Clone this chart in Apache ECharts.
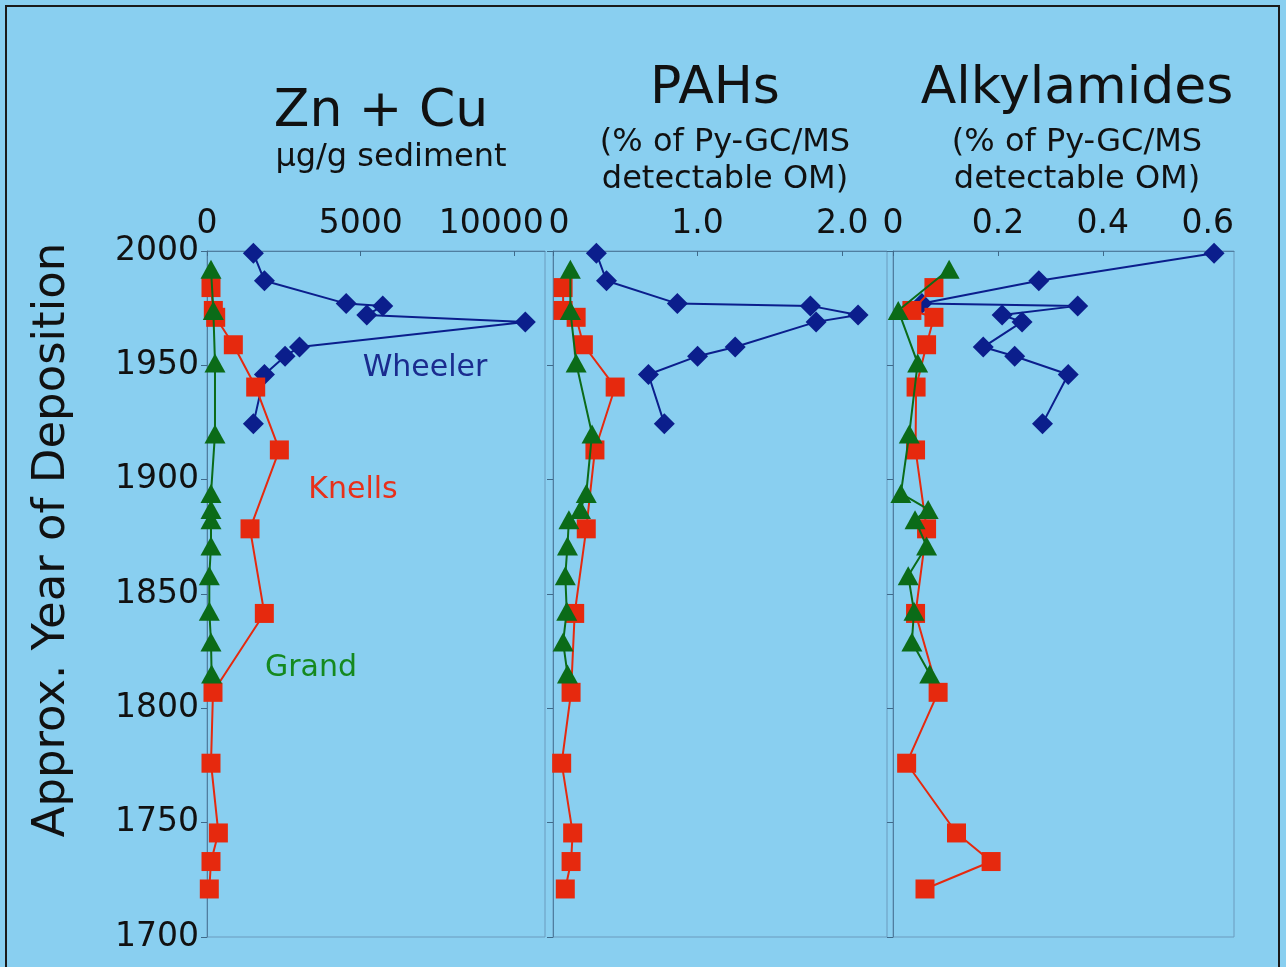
<!DOCTYPE html>
<html>
<head>
<meta charset="utf-8">
<script src="https://cdn.jsdelivr.net/npm/echarts@6/dist/echarts.min.js"></script>
<style>
html,body{margin:0;padding:0;background:#89CFF0;}
#chart{width:1286px;height:967px;}
</style>
</head>
<body>
<div id="chart"></div>
<script>
// ---- Data ----
const panelTitles = ['Zn + Cu', 'PAHs', 'Alkylamides'];
const panelSubtitles = [['μg/g sediment'], ['(% of Py-GC/MS', 'detectable OM)'], ['(% of Py-GC/MS', 'detectable OM)']];
const seriesNames = ['Wheeler', 'Knells', 'Grand'];
const yAxisTitle = 'Approx. Year of Deposition';

const wheelerYears = [1999, 1987, 1977, 1976, 1972, 1969, 1958, 1954, 1946, 1924.5];
const wheelerZnCu = [1510, 1870, 4530, 5720, 5200, 10360, 3010, 2540, 1870, 1510];
const wheelerPAH = [0.30, 0.37, 0.86, 1.78, 2.11, 1.82, 1.26, 1.00, 0.66, 0.77];
const wheelerAlk = [0.612, 0.278, 0.055, 0.352, 0.208, 0.246, 0.172, 0.232, 0.334, 0.285];

const knellsYears = [1984, 1974, 1971, 1959, 1940.5, 1913, 1878.5, 1841.5, 1807, 1776, 1745.5, 1733, 1721];
const knellsZnCu = [130, 206, 283, 857, 1585, 2355, 1400, 1866, 195, 130, 370, 130, 75];
const knellsPAH = [0.07, 0.07, 0.16, 0.21, 0.43, 0.29, 0.23, 0.15, 0.125, 0.06, 0.136, 0.125, 0.085];
const knellsAlk = [0.078, 0.036, 0.078, 0.064, 0.044, 0.043, 0.064, 0.043, 0.086, 0.026, 0.121, 0.187, 0.061];

const grandYears = [1992, 1974, 1951, 1920, 1894, 1887, 1882.5, 1871, 1858, 1842.5, 1829, 1815];
const grandZnCu = [130, 206, 260, 260, 130, 130, 130, 130, 75, 75, 130, 150];
const grandPAH = [0.12, 0.12, 0.16, 0.27, 0.23, 0.19, 0.11, 0.10, 0.085, 0.095, 0.07, 0.10];
const grandAlk = [0.107, 0.010, 0.047, 0.031, 0.015, 0.067, 0.042, 0.064, 0.029, 0.040, 0.036, 0.070];

const xMax = [11000, 2.31, 0.65];
const xInterval = [5000, 1.0, 0.2];
const yearMin = 1700, yearMax = 2000, yearInterval = 50;

// ---- Chart ----
const FONT = 'DejaVu Sans';
const colors = { Wheeler: '#0B1E8C', Knells: '#E6290E', Grand: '#0B6B18' };
const labelColors = { Wheeler: '#1A2B8E', Knells: '#E8301A', Grand: '#15891F' };

function pairs(vals, years) { return vals.map((v, i) => [v, years[i]]); }

const grids = [
  { left: 207, top: 251, width: 338, height: 686 },
  { left: 553, top: 251, width: 334, height: 686 },
  { left: 893, top: 251, width: 341, height: 686 }
].map(g => Object.assign(g, { show: true, borderColor: '#6A9BBE', borderWidth: 1, backgroundColor: 'transparent' }));

const xFormatters = [
  v => v === 10000 ? '{l|' + v + '}' : String(v),
  v => v === 0 ? '{r|0}' : v.toFixed(1),
  v => v === 0 ? '0' : v.toFixed(1)
];
const labelRich = { l: { padding: [0, 46, 0, 0] }, r: { padding: [0, 0, 0, 12] } };

const xAxes = [0, 1, 2].map(i => ({
  type: 'value', gridIndex: i, position: 'top', min: 0, max: xMax[i], interval: xInterval[i],
  axisLine: { show: true, lineStyle: { color: '#4F7EA0', width: 1 } },
  axisTick: { show: true, inside: true, length: 5, lineStyle: { color: '#3F6A8A' } },
  axisLabel: { show: true, showMaxLabel: false, fontSize: 33, fontFamily: FONT, color: '#111', margin: 10,
    formatter: xFormatters[i], rich: { l: Object.assign({ fontSize: 33, fontFamily: FONT, color: '#111' }, labelRich.l), r: Object.assign({ fontSize: 33, fontFamily: FONT, color: '#111' }, labelRich.r) } },
  splitLine: { show: false }
}));

const yAxes = [0, 1, 2].map(i => ({
  type: 'value', gridIndex: i, min: yearMin, max: yearMax, interval: yearInterval,
  axisLine: { show: true, lineStyle: { color: '#4F7EA0', width: 1 } },
  axisTick: { show: true, inside: false, length: 6, lineStyle: { color: '#3F6A8A' } },
  axisLabel: { show: i === 0, fontSize: 33, fontFamily: FONT, color: '#111', margin: 8, formatter: v => String(v) },
  splitLine: { show: false }
}));

const dataSets = [
  { Wheeler: wheelerZnCu, Knells: knellsZnCu, Grand: grandZnCu },
  { Wheeler: wheelerPAH, Knells: knellsPAH, Grand: grandPAH },
  { Wheeler: wheelerAlk, Knells: knellsAlk, Grand: grandAlk }
];
const yearsOf = { Wheeler: wheelerYears, Knells: knellsYears, Grand: grandYears };
const symbols = { Wheeler: ['diamond', [21, 21]], Knells: ['rect', [19, 19]], Grand: ['triangle', [21, 19]] };

const series = [];
[0, 1, 2].forEach(i => {
  seriesNames.forEach((name, k) => {
    series.push({
      type: 'line', name, xAxisIndex: i, yAxisIndex: i,
      data: pairs(dataSets[i][name], yearsOf[name]),
      symbol: symbols[name][0], symbolSize: symbols[name][1], showAllSymbol: true,
      lineStyle: { color: colors[name], width: 2 },
      itemStyle: { color: colors[name] },
      z: 2 + k, silent: true, animation: false
    });
  });
});

const titlePos = [[381, 138], [715, 115], [1077, 115]];
const subPos = [[391, 158], [725, 143], [1077, 143]];
const graphic = [
  { type: 'rect', shape: { x: 6, y: 6, width: 1273, height: 975 }, style: { fill: 'none', stroke: '#1a1a1a', lineWidth: 2 }, z: 100 },
  { type: 'text', x: 52, y: 540, rotation: Math.PI / 2,
    style: { text: yAxisTitle, font: '45px "DejaVu Sans"', fill: '#111', textAlign: 'center', textVerticalAlign: 'middle' } }
];
titlePos.forEach((p, i) => {
  graphic.push({ type: 'text', x: p[0], y: p[1],
    style: { text: panelTitles[i], font: '52px "DejaVu Sans"', fill: '#111', textAlign: 'center', textVerticalAlign: 'bottom' } });
  panelSubtitles[i].forEach((s, j) => {
    graphic.push({ type: 'text', x: subPos[i][0], y: subPos[i][1] + j * 37,
      style: { text: s, font: '32px "DejaVu Sans"', fill: '#111', textAlign: 'center', textVerticalAlign: 'middle' } });
  });
});
const seriesLabelPos = { Wheeler: [425, 368], Knells: [353, 490], Grand: [311, 668] };
seriesNames.forEach(n => {
  graphic.push({ type: 'text', x: seriesLabelPos[n][0], y: seriesLabelPos[n][1],
    style: { text: n, font: '30px "DejaVu Sans"', fill: labelColors[n], textAlign: 'center', textVerticalAlign: 'middle' } });
});

const chart = echarts.init(document.getElementById('chart'), null, { renderer: 'canvas' });
chart.setOption({
  backgroundColor: '#89CFF0',
  animation: false,
  grid: grids,
  xAxis: xAxes,
  yAxis: yAxes,
  series,
  graphic
});
</script>
</body>
</html>
